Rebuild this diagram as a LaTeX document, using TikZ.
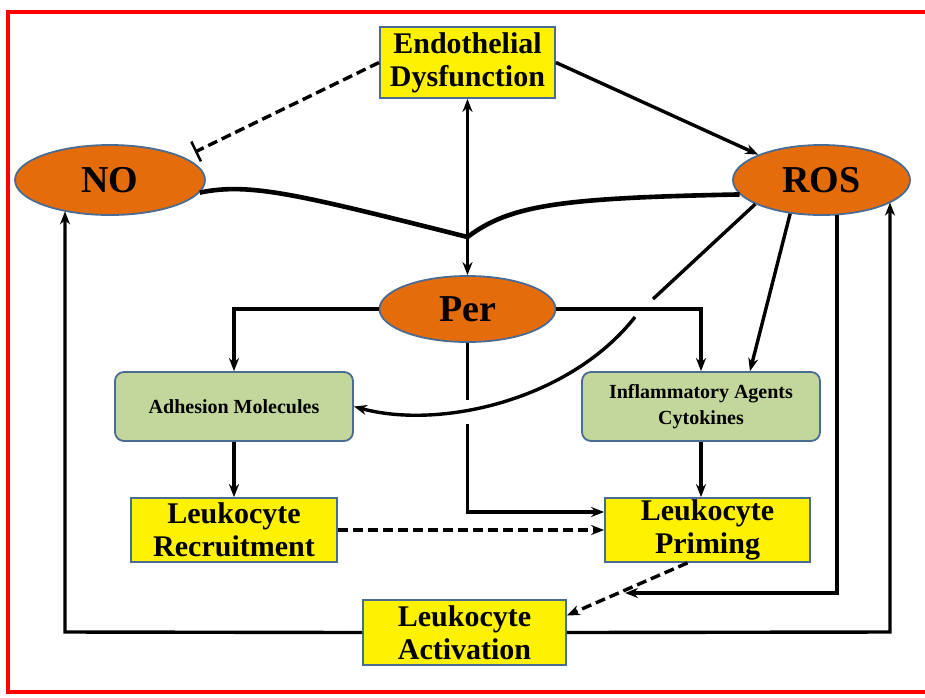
\documentclass[tikz,border=0pt]{standalone}
\usepackage{fontspec}
\setmainfont{Liberation Serif}
\usetikzlibrary{arrows.meta,calc,shapes.geometric}
\definecolor{boxline}{HTML}{4A6C94}
\definecolor{perorange}{HTML}{E46C0A}
\definecolor{sagegreen}{HTML}{C3D69B}
\definecolor{framered}{HTML}{FF0000}
\tikzset{
	yellowbox/.style={draw=boxline, line width=1.8pt, fill=yellow, align=center, inner sep=0pt, font=\bfseries\fontsize{30}{33}\selectfont},
	greenbox/.style={draw=boxline, line width=1.8pt, fill=sagegreen, rounded corners=9pt, align=center, inner sep=0pt, minimum width=238pt, minimum height=69pt, font=\bfseries\fontsize{20}{26}\selectfont},
	oval/.style={ellipse, draw=boxline, line width=1.8pt, fill=perorange, inner sep=0pt, font=\bfseries\fontsize{38}{40}\selectfont},
	link/.style={line width=3.4pt, -{Stealth[length=13pt,width=10pt]}},
	dlink/.style={link, dash pattern=on 10pt off 5pt},
	block/.style={line width=3.4pt, dash pattern=on 10pt off 5pt, -{Bar[width=22pt,line width=2.5pt]}},
	curve/.style={line width=4.6pt}
}

\begin{document}
\begin{tikzpicture}[x=1pt,y=-1pt]
		%%%%% START %%%%%
		\useasboundingbox (0,0) rectangle (925,697);
		\draw[framered, line width=4pt] (935,12) -- (8,12) -- (8,692) -- (935,692);
		
		\node[yellowbox, minimum width=175pt, minimum height=71pt] (endo) at (467.5,62.5) {Endothelial\\Dysfunction};
		\node[oval, minimum width=190pt, minimum height=70pt] (no) at (110,180) {NO};
		\node[oval, minimum width=177pt, minimum height=70pt] (ros) at (821.5,180) {ROS};
		\node[oval, minimum width=176pt, minimum height=66pt] (per) at (467.5,309) {Per};
		
		\node[greenbox] (adh) at (234,406.5) {Adhesion Molecules};
		\node[greenbox] (infl) at (701,406.5) {Inflammatory Agents\\Cytokines};
		
		\node[yellowbox, minimum width=206pt, minimum height=64pt] (recr) at (234,530) {Leukocyte\\Recruitment};
		\node[yellowbox, minimum width=205pt, minimum height=64pt] (prim) at (707.5,530) {Leukocyte\\Priming};
		\node[yellowbox, minimum width=203pt, minimum height=65pt] (activ) at (464.5,632.5) {Leukocyte\\Activation};
		
		\coordinate (meet) at (467.5,237);
		\coordinate (noCap) at (195,152);
		\coordinate (crossA) at (653,299);
		\coordinate (crossB) at (635,317);
		\coordinate (perGapA) at (467.5,400);
		\coordinate (perGapB) at (467.5,424);
		\coordinate (rosRun) at (837,593);
		\coordinate (activTip) at (625,593);
		\coordinate (noRun) at (65,632);
		\coordinate (rosRise) at (890,632);
		
		\draw[block] (endo.west) -- (noCap);
		\draw[link] (endo.east) -- (ros.north west);
		\draw[link, line width=2.4pt] (meet) -- (endo.south);
		\draw[link, line width=2.4pt] (meet) -- (per.north);
		\draw[curve] (no.-8) .. controls (250,182) and (300,195) .. (meet);
		\draw[curve] (ros.190) .. controls (560,198) and (510,205) .. (meet);
		
		\draw[link] (ros.200) -- (crossA) (crossB) .. controls (570,400) and (440,430) .. (adh.east);
		\draw[link] (ros.227) -- ($(infl.north)+(49,0)$);
		\draw[link] (ros.-66 -| rosRun) -- (rosRun) -- (activTip);
		\draw[link] (activ.west) -- (noRun) -- (no.214 -| noRun);
		\draw[link] (activ.east) -- (rosRise) -- (ros.-18 -| rosRise);
		
		\draw[link] (per.west) -| (adh.north);
		\draw[link] (per.east) -| (infl.north);
		\draw[link] (per.south) -- (perGapA) (perGapB) |- ($(prim.west)+(0,-18)$);
		\draw[link] (adh.south) -- (recr.north);
		\draw[link] (infl.south) -- (infl.south |- prim.north);
		\draw[dlink] (recr.east) -- (prim.west);
		\draw[dlink] ($(prim.south)+(-20,0)$) -- ($(activ.east)+(0,-17)$);
		%%%%% END %%%%%
\end{tikzpicture}
\end{document}
